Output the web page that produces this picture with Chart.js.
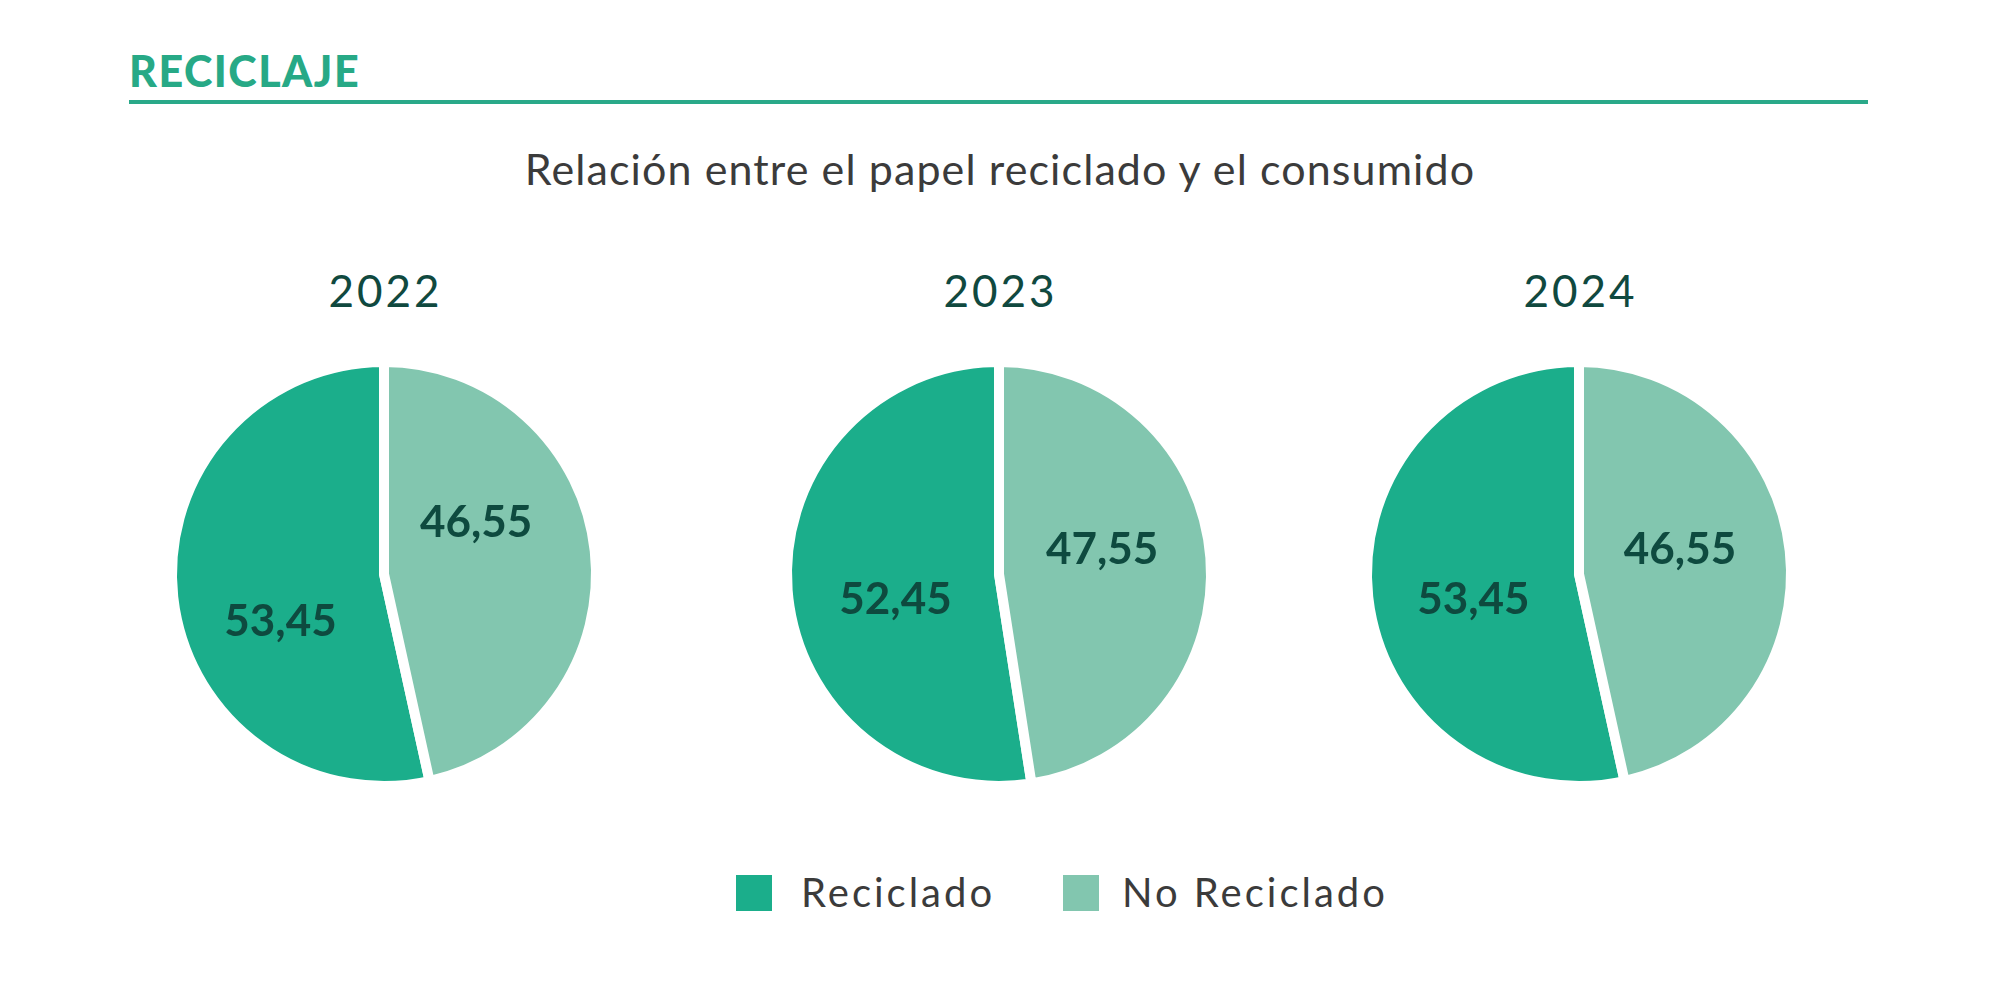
<!DOCTYPE html>
<html><head><meta charset="utf-8">
<script src="https://cdn.jsdelivr.net/npm/chart.js@4.4.1/dist/chart.umd.min.js"></script>
<style>
html,body{margin:0;padding:0;background:#fff;}
#page{position:relative;width:2000px;height:992px;overflow:hidden;font-family:Lato,"Open Sans",sans-serif;}
.abs{position:absolute;white-space:nowrap;line-height:1.2;}
#title{left:129px;top:45px;font-size:43px;font-weight:900;color:#27a986;letter-spacing:1.5px;}
#rule{position:absolute;left:129px;top:100px;width:1739px;height:4px;background:#2aa989;}
#subtitle{left:0;width:2000px;text-align:center;top:143px;font-size:43px;color:#3b3b3b;letter-spacing:1.1px;}
.year{width:400px;text-align:center;top:264px;font-size:44px;color:#10493f;letter-spacing:3px;text-indent:3px;}
canvas{position:absolute;}
.sw{position:absolute;width:36px;height:36px;top:875px;}
.lg{top:868px;font-size:40px;color:#3b3b3b;letter-spacing:3px;}
</style></head><body>
<div id="page">
  <div class="abs" id="title">RECICLAJE</div>
  <div id="rule"></div>
  <div class="abs" id="subtitle">Relación entre el papel reciclado y el consumido</div>
  <div class="abs year" id="y0"></div>
  <div class="abs year" id="y1"></div>
  <div class="abs year" id="y2"></div>
  <canvas id="c0" width="480" height="480"></canvas>
  <canvas id="c1" width="480" height="480"></canvas>
  <canvas id="c2" width="480" height="480"></canvas>
  <div class="sw" id="sw0" style="left:736px"></div>
  <div class="abs lg" id="lg0" style="left:801px"></div>
  <div class="sw" id="sw1" style="left:1063px"></div>
  <div class="abs lg" id="lg1" style="left:1122px"></div>
</div>
<script>
// ---- data ----
const years = ['2022', '2023', '2024'];
const categories = ['Reciclado', 'No Reciclado'];
const reciclado = [53.45, 52.45, 53.45];
const noReciclado = [46.55, 47.55, 46.55];

// ---- style / layout ----
const colors = ['#1bae8b', '#82c6af'];
const labelColor = '#0e4a3f';
const centersX = [384, 999, 1579];
const centerY = 574;
const R = 212;            // outer radius incl. half of white border
const BW = 10;            // white separator width
// label placement relative to pie centre, as fraction of radius [Reciclado, No Reciclado]
const labelPlace = [
  [[-0.50, 0.232], [0.445, -0.246]],
  [[-0.50, 0.126], [0.498, -0.116]],
  [[-0.51, 0.126], [0.488, -0.116]]
];

const fmt = v => v.toFixed(2).replace('.', ',');

const labelPlugin = {
  id: 'sliceLabels',
  afterDatasetsDraw(chart) {
    const idx = chart.options.plugins.sliceLabels.index;
    const meta = chart.getDatasetMeta(0);
    const data = chart.data.datasets[0].data;
    const ctx = chart.ctx;
    ctx.save();
    ctx.font = 'bold 44px Lato, sans-serif';
    ctx.fillStyle = labelColor;
    ctx.textAlign = 'center';
    ctx.textBaseline = 'middle';
    meta.data.forEach((arc, i) => {
      const p = arc.getProps(['x', 'y', 'outerRadius'], true);
      const r = p.outerRadius - BW / 2;
      const pl = labelPlace[idx][i];
      ctx.fillText(fmt(data[i]), p.x + pl[0] * r, p.y + pl[1] * r);
    });
    ctx.restore();
  }
};

years.forEach((yr, k) => {
  const yd = document.getElementById('y' + k);
  yd.textContent = yr;
  yd.style.left = (centersX[k] - 200) + 'px';
  const cv = document.getElementById('c' + k);
  cv.style.left = (centersX[k] - 240) + 'px';
  cv.style.top = (centerY - 240) + 'px';
  const vals = [reciclado[k], noReciclado[k]];
  const total = vals[0] + vals[1];
  new Chart(cv, {
    type: 'pie',
    data: {
      labels: categories,
      datasets: [{
        data: vals,
        backgroundColor: colors,
        borderColor: '#ffffff',
        borderWidth: BW,
        hoverOffset: 0
      }]
    },
    options: {
      responsive: false,
      animation: false,
      events: [],
      radius: R,
      rotation: 360 * vals[1] / total,
      layout: { padding: 0 },
      plugins: {
        legend: { display: false },
        tooltip: { enabled: false },
        sliceLabels: { index: k }
      }
    },
    plugins: [labelPlugin]
  });
});

categories.forEach((c, i) => {
  document.getElementById('sw' + i).style.background = colors[i];
  document.getElementById('lg' + i).textContent = c;
});
</script>
</body></html>
